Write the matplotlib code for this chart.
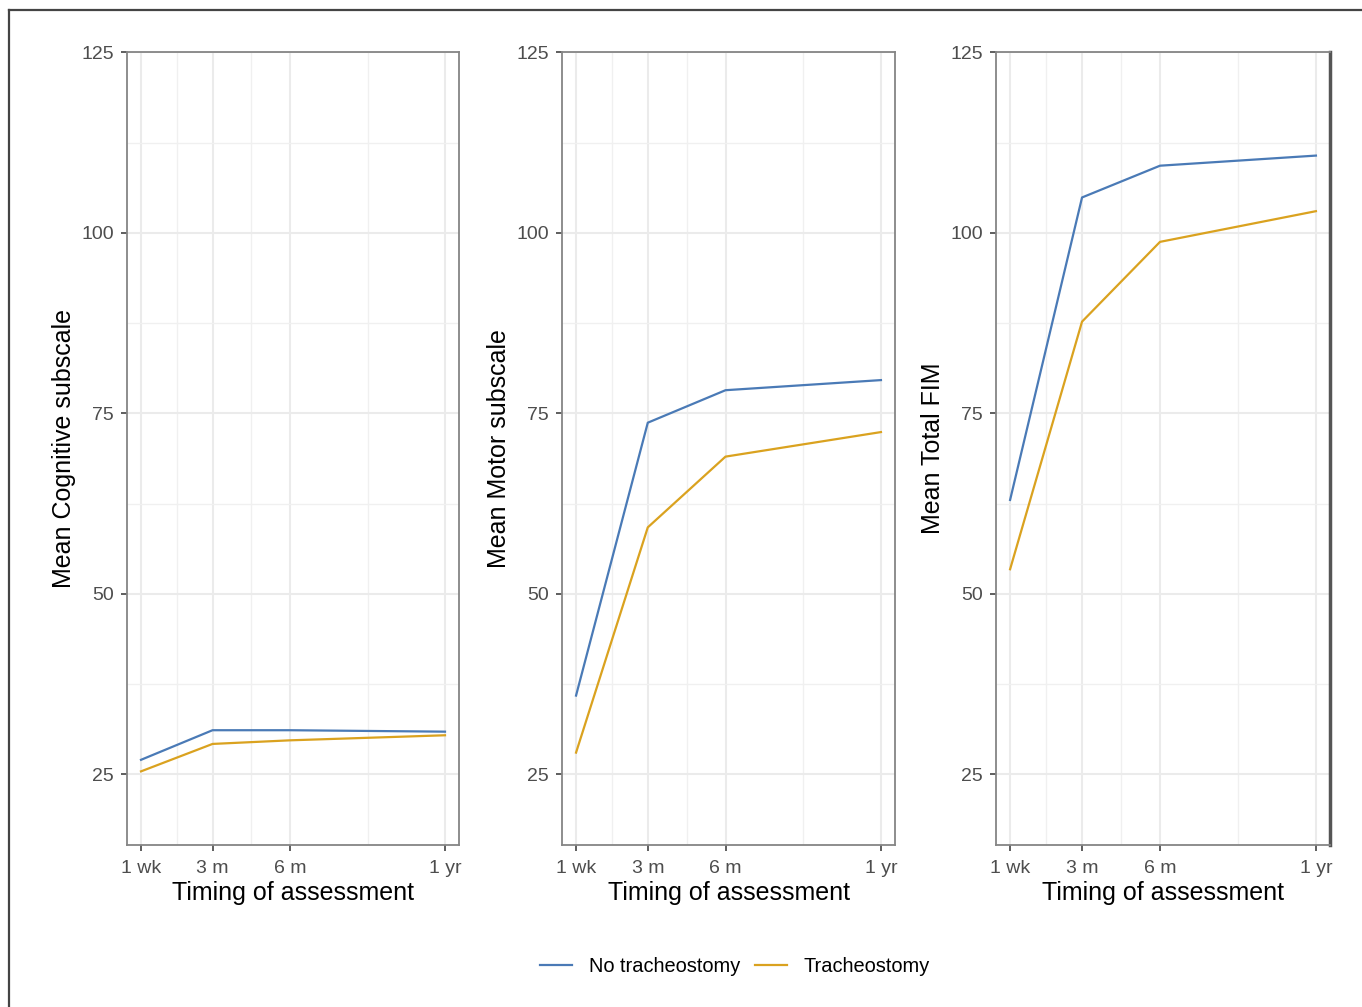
import matplotlib
matplotlib.use("Agg")
import matplotlib.pyplot as plt
from matplotlib.lines import Line2D

plt.rcParams['font.family'] = ['Liberation Sans', 'DejaVu Sans']

# ---- data ----
timepoints_weeks = [1, 13, 26, 52]
tick_labels = ["1 wk", "3 m", "6 m", "1 yr"]
minor_weeks = [7, 19.5, 39]
groups = ["No tracheostomy", "Tracheostomy"]

cognitive_no_trach = [27.0, 31.1, 31.1, 30.9]
cognitive_trach = [25.4, 29.2, 29.7, 30.4]
motor_no_trach = [35.9, 73.7, 78.2, 79.6]
motor_trach = [28.0, 59.2, 69.0, 72.4]
total_no_trach = [63.0, 104.9, 109.3, 110.7]
total_trach = [53.4, 87.7, 98.75, 103.0]

y_labels = ["Mean Cognitive subscale", "Mean Motor subscale", "Mean Total FIM"]
y_ticks = [25, 50, 75, 100, 125]
y_minor = [37.5, 62.5, 87.5, 112.5]

colors = ["#4A7AB6", "#DAA21F"]

W, H = 1362, 1007
fig = plt.figure(figsize=(W / 100, H / 100), dpi=100)
fig.patch.set_facecolor("white")

panel_lefts = [127, 562, 996]
panel_rights = [459, 895, 1330]
top_px, bottom_px = 52, 845

series = [(cognitive_no_trach, cognitive_trach),
          (motor_no_trach, motor_trach),
          (total_no_trach, total_trach)]

axes = []
for i in range(3):
    l = panel_lefts[i] / W
    w = (panel_rights[i] - panel_lefts[i]) / W
    b = 1 - bottom_px / H
    h = (bottom_px - top_px) / H
    ax = fig.add_axes([l, b, w, h])
    axes.append(ax)
    # grid
    for x in minor_weeks:
        ax.axvline(x, color="#F0F0F0", lw=1.0, zorder=0)
    for x in timepoints_weeks:
        ax.axvline(x, color="#EBEBEB", lw=1.5, zorder=0)
    for y in y_minor:
        ax.axhline(y, color="#F0F0F0", lw=1.0, zorder=0)
    for y in y_ticks:
        ax.axhline(y, color="#EBEBEB", lw=1.5, zorder=0)
    for vals, c, g in zip(series[i], colors, groups):
        ax.plot(timepoints_weeks, vals, color=c, lw=1.6, label=g, zorder=3)
    ax.set_xlim(-1.35, 54.35)
    ax.set_ylim(15.2, 125.05)
    ax.set_xticks(timepoints_weeks)
    ax.set_xticklabels(tick_labels)
    ax.set_yticks(y_ticks)
    ax.tick_params(axis="both", which="major", length=4, width=1.1,
                   color="#333333", labelcolor="#4D4D4D", labelsize=14)
    ax.tick_params(axis="x", pad=7)
    ax.tick_params(axis="y", pad=5.5)
    for s in ax.spines.values():
        s.set_color("#858585")
        s.set_linewidth(1.3)
    ax.set_xlabel("Timing of assessment", fontsize=18, color="black", labelpad=3)
    ax.set_ylabel(y_labels[i], fontsize=18, color="black", labelpad=3.5)

axes[2].spines["right"].set_color("#555555")
axes[2].spines["right"].set_linewidth(2.5)

handles = [Line2D([0], [0], color=c, lw=1.6) for c in colors]
fig.legend(handles, groups, loc="center", bbox_to_anchor=(735 / W, 1 - 966 / H),
           ncol=2, frameon=False, fontsize=14.4, handlelength=1.6,
           handletextpad=0.85, columnspacing=0.7)

# outer frame (left and top edges)
fig.add_artist(Line2D([9 / W, 9 / W], [0, 1 - 10 / H], color="#444444", lw=1.6,
                      transform=fig.transFigure))
fig.add_artist(Line2D([9 / W, 1], [1 - 10 / H, 1 - 10 / H], color="#444444", lw=1.6,
                      transform=fig.transFigure))

fig.savefig("out.png", dpi=100, facecolor="white")
